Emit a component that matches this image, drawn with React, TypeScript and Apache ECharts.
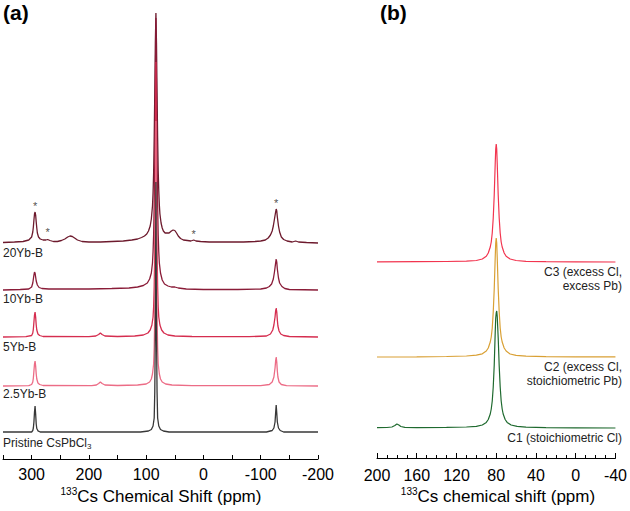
import { useEffect, useRef } from 'react';
import * as echarts from 'echarts';

const FONT = '"Liberation Sans", Arial, Helvetica, sans-serif';

// ---------- Panel (a): 133Cs MAS spectra, [ppm, intensity] ----------
const spec20Yb: [number, number][] = [
  [350, 0.5], [330, 1], [315, 1.5], [305, 3], [300, 6], [298, 11], [297, 16], [296, 23], [295, 29], [294, 31],
  [293, 28], [292, 21], [291, 15], [290, 10], [288, 6], [285, 4], [280, 3], [275, 3], [272, 3.5], [268, 2.5],
  [262, 1.5], [255, 1.5], [248, 2.5], [242, 4], [237, 6], [233, 7], [229, 6.5], [225, 5], [220, 3], [212, 1.5],
  [200, 1], [180, 1], [160, 1.5], [140, 2], [125, 3], [115, 4], [108, 5.5], [103, 7], [99, 9], [96, 12],
  [93, 17], [91, 24], [89, 37], [88, 50], [87, 70], [86, 105], [85, 150], [84, 200], [83, 230], [82, 200],
  [81, 150], [80, 105], [79, 72], [78, 52], [77, 38], [76, 29], [74, 20], [72, 15], [70, 12], [67, 10],
  [64, 10], [60, 10], [56, 12], [53, 13], [50, 12.5], [47, 10], [44, 7], [40, 4.5], [35, 3], [28, 2.5],
  [22, 2], [17, 3], [13, 2], [5, 1.5], [-10, 1], [-40, 1], [-70, 1], [-90, 1.5], [-100, 2], [-108, 3],
  [-113, 5], [-117, 8], [-120, 12], [-122, 17], [-124, 24], [-126, 31], [-127, 34], [-128, 32], [-129, 26],
  [-131, 17], [-133, 11], [-136, 6], [-140, 3.5], [-146, 2], [-155, 1], [-161, 2], [-166, 1], [-180, 0.5], [-200, 0],
];

const spec10Yb: [number, number][] = [
  [350, 0], [320, 0.5], [305, 1], [300, 3], [298, 7], [297, 11], [296, 15], [295, 18], [294, 17], [293, 13],
  [292, 9], [290, 5], [287, 2.5], [282, 1.5], [270, 1], [240, 1], [200, 1], [160, 1.5], [130, 2], [115, 3],
  [105, 4.5], [98, 7], [94, 11], [91, 17], [89, 27], [88, 38], [87, 55], [86, 85], [85, 130], [84, 200],
  [83, 272], [82, 200], [81, 130], [80, 85], [79, 55], [78, 38], [77, 27], [75, 17], [72, 10], [68, 6],
  [62, 4], [56, 3], [50, 3], [44, 2], [30, 1], [0, 0.5], [-60, 0.5], [-100, 1], [-110, 2], [-115, 3.5],
  [-119, 6], [-122, 11], [-124, 18], [-126, 27], [-127, 31], [-128, 28], [-129, 21], [-131, 12], [-133, 7],
  [-137, 3.5], [-142, 1.5], [-150, 0.5], [-200, 0],
];

const spec5Yb: [number, number][] = [
  [350, 0], [310, 0.3], [300, 1.5], [298, 4], [297, 8], [296, 15], [295, 22], [294, 25], [293, 20], [292, 12],
  [291, 7], [289, 3], [286, 1.5], [280, 0.5], [200, 0.3], [188, 1], [183, 2.5], [180, 4], [177, 2.5], [172, 1],
  [150, 0.5], [120, 1], [105, 2], [97, 4], [93, 7], [90, 12], [88, 20], [87, 30], [86, 50], [85, 85],
  [84, 150], [83, 275], [82, 150], [81, 85], [80, 50], [79, 30], [78, 20], [76, 12], [73, 7], [69, 4],
  [62, 2], [50, 1], [20, 0.5], [-80, 0.3], [-110, 1], [-117, 3], [-121, 7], [-123, 12], [-125, 20], [-126, 26],
  [-127, 29], [-128, 25], [-129, 17], [-130, 11], [-132, 6], [-135, 3], [-140, 1.5], [-150, 0.5], [-200, 0],
];

const spec2p5Yb: [number, number][] = [
  [350, 0], [305, 0.3], [300, 1.5], [298, 4], [297, 8], [296, 15], [295, 22], [294, 25], [293, 20], [292, 12],
  [291, 7], [289, 3], [286, 1.5], [280, 0.5], [195, 0.3], [187, 1], [183, 2.5], [180, 4], [177, 2.5], [172, 1],
  [150, 0.5], [115, 1], [100, 2], [94, 4], [91, 7], [89, 12], [87, 22], [86, 38], [85, 70], [84, 130],
  [83, 265], [82, 130], [81, 70], [80, 38], [79, 22], [77, 12], [75, 7], [72, 4], [66, 2], [55, 1],
  [20, 0.3], [-100, 0.3], [-115, 1.5], [-120, 4], [-123, 9], [-125, 18], [-126, 25], [-127, 29], [-128, 24],
  [-129, 15], [-130, 9], [-132, 4], [-136, 1.5], [-145, 0.3], [-200, 0],
];

const specPristine: [number, number][] = [
  [350, 0], [300, 0], [298, 1.5], [297, 4], [296, 10], [295, 20], [294, 26], [293, 18], [292, 8], [291, 3.5],
  [289, 1.2], [285, 0], [110, 0], [96, 1], [91, 2.5], [88, 6], [86, 14], [85, 40], [84, 100], [83, 250],
  [82, 100], [81, 40], [80, 14], [78, 6], [75, 2.5], [70, 1], [60, 0], [-110, 0], [-120, 1.5], [-123, 4],
  [-125, 10], [-126, 19], [-127, 27], [-128, 19], [-129, 10], [-131, 4], [-134, 1.5], [-140, 0], [-200, 0],
];

// spinning-sideband markers on the 20Yb-B trace: [ppm, height above axis]
const sidebandMarks: [number, number][] = [[294, 253], [272, 227], [17, 225], [-127, 256]];

const namesA = ['20Yb-B', '10Yb-B', '5Yb-B', '2.5Yb-B', 'Pristine CsPbCl'];
const spectraA = [spec20Yb, spec10Yb, spec5Yb, spec2p5Yb, specPristine];

// ---------- Panel (b) ----------
const specC3: [number, number][] = [
  [200, 0.2], [160, 0.3], [130, 0.5], [110, 0.8], [100, 1.5], [94, 3], [90, 5.8], [88, 9], [86, 15], [85, 20],
  [84, 29], [83, 44], [82, 67], [81, 99], [80.5, 113], [80, 118], [79.5, 113], [79, 99], [78, 67], [77, 44],
  [76, 29], [75, 20], [74, 15], [72, 9], [70, 5.8], [66, 3], [60, 1.5], [50, 0.7], [30, 0.3], [0, 0.2], [-40, 0],
];

const specC2: [number, number][] = [
  [200, 0], [160, 0.2], [130, 0.5], [110, 1], [100, 1.8], [94, 3.2], [90, 6], [88, 9], [86, 15], [85, 20],
  [84, 29], [83, 45], [82, 68], [81, 100], [80.5, 114], [80, 119], [79.5, 114], [79, 100], [78, 68], [77, 45],
  [76, 29], [75, 20], [74, 15], [72, 9], [70, 6], [66, 3], [60, 1.6], [50, 0.8], [30, 0.3], [0, 0.1], [-40, 0.1],
];

const specC1: [number, number][] = [
  [200, 0.3], [190, 0.5], [185, 1], [182, 2.5], [180, 4], [178, 3], [176, 1.5], [172, 0.6], [160, 0.4], [130, 0.6],
  [110, 1], [100, 1.6], [94, 3], [90, 5.6], [88, 8.5], [86, 14], [85, 19], [84, 27], [83, 41], [82, 63],
  [81, 96], [80.5, 110], [80, 115], [79.5, 117], [79, 112], [78, 90], [77, 62], [76, 41], [75, 27], [74, 19],
  [73, 14], [71, 8.5], [69, 5.6], [65, 3], [59, 1.6], [50, 0.8], [30, 0.4], [0, 0.2], [-40, 0],
];

const namesB = ['C3', 'C2', 'C1'];
const spectraB = [specC3, specC2, specC1];
const labelsB = [
  ['C3 (excess Cl,', 'excess Pb)'],
  ['C2 (excess Cl,', 'stoichiometric Pb)'],
  ['C1 (stoichiometric Cl)'],
];

// ---------- layout & style ----------
const colorsA = ['#6d1a2d', '#8a1c38', '#d52d4f', '#ec6c86', '#383838'];
const baselinesA = [216, 169, 122, 73, 27];
const labelYA = [254, 300, 348, 395, 445];

const colorsB = ['#f2354f', '#d9a034', '#1f6a2f'];
const baselinesB = [196, 101, 30];
const labelTopB = [265, 360, 431];

const GRID_A = { left: 0, top: 10, width: 318, height: 449 };
const GRID_B = { left: 377, top: 10, width: 240, height: 448 };

const axisCommon = {
  type: 'value' as const,
  inverse: true,
  splitLine: { show: false },
  axisLine: { lineStyle: { color: '#000', width: 1 } },
  axisTick: { inside: true, length: 4, lineStyle: { color: '#000' } },
  axisLabel: { color: '#000', fontFamily: FONT, fontSize: 16, margin: 7 },
};

function buildOption() {
  const series: any[] = [];
  spectraA.forEach((s, i) => {
    series.push({
      type: 'line',
      name: namesA[i],
      xAxisIndex: 0,
      yAxisIndex: 0,
      showSymbol: false,
      silent: true,
      z: 2 + i,
      data: s.map(([p, v]) => [p, v + baselinesA[i]]),
      lineStyle: { color: colorsA[i], width: 1.3 },
    });
  });
  series.push({
    type: 'scatter',
    xAxisIndex: 0,
    yAxisIndex: 0,
    symbolSize: 0,
    silent: true,
    data: sidebandMarks,
    label: {
      show: true,
      position: 'inside',
      formatter: '*',
      color: '#222',
      fontSize: 11,
      fontFamily: FONT,
    },
  });
  spectraB.forEach((s, i) => {
    series.push({
      type: 'line',
      name: namesB[i],
      xAxisIndex: 1,
      yAxisIndex: 1,
      showSymbol: false,
      silent: true,
      z: 2 + i,
      data: s.map(([p, v]) => [p, v + baselinesB[i]]),
      lineStyle: { color: colorsB[i], width: 1.2 },
    });
  });

  const textA = namesA.map((n, i) =>
    i === namesA.length - 1
      ? {
          type: 'text',
          left: 3,
          top: labelYA[i] - 8,
          style: {
            text: '{m|' + n + '}{s|3}',
            rich: {
              m: { fontSize: 12, fontFamily: FONT, fill: '#222', lineHeight: 15 },
              s: { fontSize: 8, fontFamily: FONT, fill: '#222', lineHeight: 8, verticalAlign: 'bottom' },
            },
          },
        }
      : {
          type: 'text',
          left: 3,
          top: labelYA[i] - 7,
          style: { text: n, fontSize: 12, fontFamily: FONT, fill: '#222' },
        }
  );

  const textB = labelsB.map((lines, i) => ({
    type: 'text',
    x: 622,
    y: labelTopB[i],
    style: {
      text: lines.join('\n'),
      fontSize: 12,
      lineHeight: 14,
      fontFamily: FONT,
      fill: '#222',
      align: 'right',
      verticalAlign: 'top',
    },
  }));

  const axisTitle = (text: string, cx: number) => ({
    type: 'text',
    x: cx,
    y: 486,
    style: {
      text: '{s|133}{m|' + text + '}',
      align: 'center',
      rich: {
        s: { fontSize: 10, fontFamily: FONT, fill: '#000', lineHeight: 10, verticalAlign: 'top' },
        m: { fontSize: 17, fontFamily: FONT, fill: '#000', lineHeight: 20 },
      },
    },
  });

  return {
    animation: false,
    backgroundColor: '#fff',
    grid: [
      { ...GRID_A, containLabel: false },
      { ...GRID_B, containLabel: false },
    ],
    xAxis: [
      {
        ...axisCommon,
        gridIndex: 0,
        min: -200,
        max: 350,
        interval: 50,
        axisLabel: {
          ...axisCommon.axisLabel,
          interval: 0,
          formatter: (v: number) => (v % 100 === 0 ? String(v) : ''),
        },
      },
      {
        ...axisCommon,
        gridIndex: 1,
        min: -40,
        max: 200,
        interval: 40,
        axisTick: { inside: true, length: 5, lineStyle: { color: '#000' } },
        minorTick: { show: true, splitNumber: 4, length: 3, lineStyle: { color: '#000' } },
        axisLabel: { ...axisCommon.axisLabel, margin: 9 },
      },
    ],
    yAxis: [
      { type: 'value', gridIndex: 0, min: 0, max: 449, show: false },
      { type: 'value', gridIndex: 1, min: 0, max: 448, show: false },
    ],
    series,
    graphic: [
      { type: 'text', left: 3, top: 2, style: { text: '(a)', fontSize: 21, fontWeight: 'bold', fontFamily: FONT, fill: '#000' } },
      { type: 'text', left: 380, top: 2, style: { text: '(b)', fontSize: 21, fontWeight: 'bold', fontFamily: FONT, fill: '#000' } },
      ...textA,
      ...textB,
      axisTitle('Cs Chemical Shift (ppm)', 161),
      axisTitle('Cs chemical shift (ppm)', 498),
    ],
  };
}

export default function App() {
  const ref = useRef<HTMLDivElement>(null);
  useEffect(() => {
    if (!ref.current) return;
    const chart = echarts.init(ref.current, null, { renderer: 'svg' });
    chart.setOption(buildOption() as any);
    return () => chart.dispose();
  }, []);
  return (
    <div
      ref={ref}
      style={{ position: 'fixed', left: 0, top: 0, width: 630, height: 511, background: '#fff' }}
    />
  );
}
